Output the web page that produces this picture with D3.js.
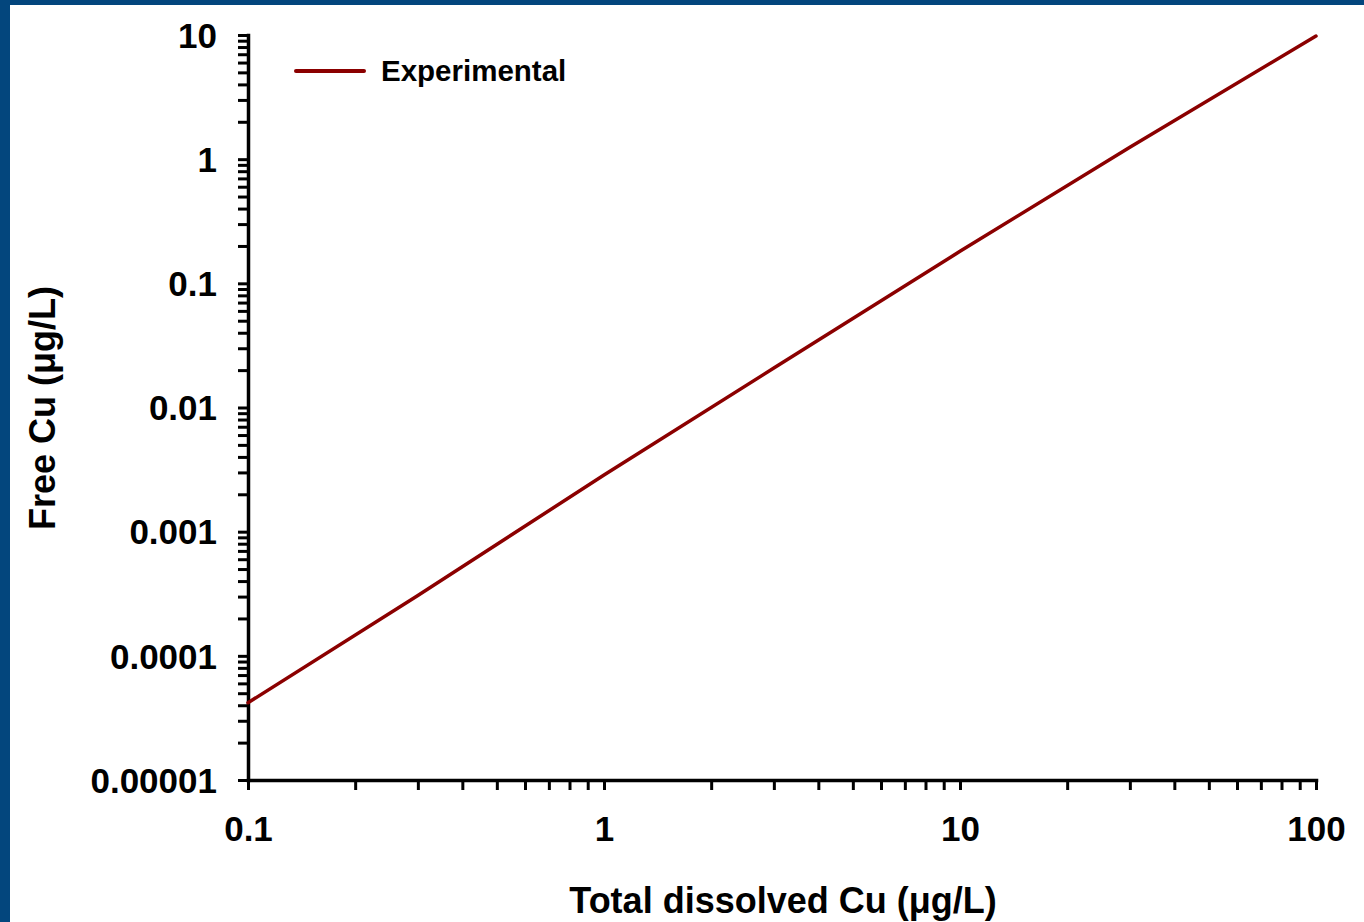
<!DOCTYPE html>
<html>
<head>
<meta charset="utf-8">
<script src="https://cdn.jsdelivr.net/npm/d3@7"></script>
<style>
  html, body { margin: 0; padding: 0; background: #fff; }
  svg { display: block; }
  text { font-family: "Liberation Sans", Arial, sans-serif; font-weight: bold; fill: #000; }
</style>
</head>
<body>
<script>
// ---- data ----
const totalCu = [0.1, 0.3, 1, 3, 10, 30, 100];
const freeCu = [4.19e-5, 3.06e-4, 2.86e-3, 0.0208, 0.181, 1.25, 9.8];
const seriesName = "Experimental";
const xTickLabels = ["0.1", "1", "10", "100"];
const xTickValues = [0.1, 1, 10, 100];
const yTickLabels = ["0.00001", "0.0001", "0.001", "0.01", "0.1", "1", "10"];
const yTickValues = [1e-5, 1e-4, 1e-3, 1e-2, 1e-1, 1, 10];
const xTitle = "Total dissolved Cu (\u03bcg/L)";
const yTitle = "Free Cu (\u03bcg/L)";

const W = 1364, H = 922;
const svg = d3.select("body").append("svg").attr("width", W).attr("height", H);

// blue frame
svg.append("rect").attr("x", 0).attr("y", 0).attr("width", W).attr("height", H).attr("fill", "#03467d");
svg.append("rect").attr("x", 10).attr("y", 5).attr("width", W - 10).attr("height", H - 5).attr("fill", "#fff");

const x = d3.scaleLog().domain([0.1, 100]).range([248, 1316]);
const y = d3.scaleLog().domain([1e-5, 10]).range([780, 35]);

function minorTicks(domain) {
  const out = [];
  for (let e = Math.round(Math.log10(domain[0])); e < Math.round(Math.log10(domain[1])); e++) {
    for (let m = 1; m <= 9; m++) out.push(+(m * Math.pow(10, e)).toPrecision(6));
  }
  out.push(domain[1]);
  return out;
}

const xFmt = v => { const i = xTickValues.findIndex(t => Math.abs(t - v) / t < 1e-9); return i >= 0 ? xTickLabels[i] : ""; };
const yFmt = v => { const i = yTickValues.findIndex(t => Math.abs(t - v) / t < 1e-9); return i >= 0 ? yTickLabels[i] : ""; };

const xAxis = svg.append("g").attr("transform", "translate(0,780)")
  .call(d3.axisBottom(x).tickValues(minorTicks(x.domain())).tickFormat(xFmt).tickSizeInner(10).tickSizeOuter(0).tickPadding(26));
const yAxis = svg.append("g").attr("transform", "translate(248,0)")
  .call(d3.axisLeft(y).tickValues(minorTicks(y.domain())).tickFormat(yFmt).tickSizeInner(10).tickSizeOuter(0).tickPadding(21));

[xAxis, yAxis].forEach(g => {
  g.select(".domain").attr("stroke", "#000").attr("stroke-width", 3.5).attr("stroke-linecap", "square");
  g.selectAll(".tick line").attr("stroke", "#000").attr("stroke-width", 3);
  g.selectAll(".tick text").style("font-size", "35px").attr("fill", "#000");
});
xAxis.selectAll(".tick text").attr("dy", "0.71em");
yAxis.selectAll(".tick text").attr("dy", "0.35em");

// line
const line = d3.line().x((d, i) => x(totalCu[i])).y(d => y(d));
svg.append("path").datum(freeCu).attr("d", line)
  .attr("fill", "none").attr("stroke", "#8b0000").attr("stroke-width", 3.5).attr("stroke-linecap", "round");

// legend
svg.append("line").attr("x1", 296).attr("x2", 364).attr("y1", 71).attr("y2", 71)
  .attr("stroke", "#8b0000").attr("stroke-width", 4).attr("stroke-linecap", "round");
svg.append("text").attr("x", 381).attr("y", 81).style("font-size", "29.5px").text(seriesName);

// titles
svg.append("text").attr("x", 783).attr("y", 913).attr("text-anchor", "middle").style("font-size", "36px").text(xTitle);
svg.append("text").attr("transform", "translate(55,408) rotate(-90)").attr("text-anchor", "middle").style("font-size", "36px").text(yTitle);
</script>
</body>
</html>
